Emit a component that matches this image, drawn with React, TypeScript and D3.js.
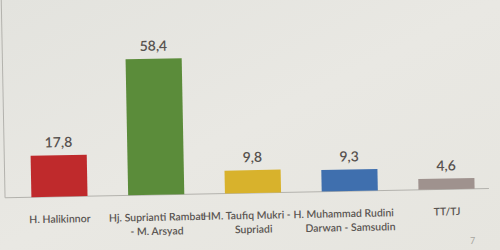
import React from "react";
import * as d3 from "d3";

const categories: string[][] = [
  ["H. Halikinnor"],
  ["Hj. Suprianti Rambat", "- M. Arsyad"],
  ["HM. Taufiq Mukri - H.", "Supriadi"],
  ["Muhammad Rudini", "Darwan - Samsudin"],
  ["TT/TJ"],
];
const values: number[] = [17.8, 58.4, 9.8, 9.3, 4.6];
const valueLabels: string[] = ["17,8", "58,4", "9,8", "9,3", "4,6"];
const colors: string[] = ["#bf2a2c", "#5b8c3a", "#d8b22c", "#3f6fae", "#9f928e"];

const W = 500;
const H = 250;
const baseY = 193;

export default function App() {
  const x = d3
    .scaleBand<number>()
    .domain(values.map((_, i) => i))
    .range([12, 494])
    .paddingInner(0.42)
    .paddingOuter(0.2);
  const y = d3.scaleLinear().domain([0, 60]).range([baseY, baseY - 60 * 2.33]);
  const font = "Lato, 'Open Sans', sans-serif";
  return (
    <svg
      width={W}
      height={H}
      style={{ position: "absolute", left: 0, top: 0, display: "block" }}
    >
      <defs>
        <linearGradient id="bg" x1="0" y1="0" x2="1" y2="1">
          <stop offset="0" stopColor="#e3e3de" />
          <stop offset="0.5" stopColor="#e9e8e3" />
          <stop offset="1" stopColor="#e6e5df" />
        </linearGradient>
      </defs>
      <rect x={0} y={0} width={W} height={H} fill="url(#bg)" />
      <g transform={`rotate(-1.1, 250, ${baseY})`}>
        <line x1={5} x2={5} y1={-10} y2={baseY} stroke="#b3b2ad" strokeWidth={1} />
        <line x1={5} x2={489} y1={baseY} y2={baseY} stroke="#b3b2ad" strokeWidth={1} />
        {values.map((v, i) => (
          <rect
            key={"b" + i}
            x={x(i)!}
            y={y(v)}
            width={x.bandwidth()}
            height={y(0) - y(v)}
            fill={colors[i]}
          />
        ))}
        {values.map((v, i) => (
          <text
            key={"v" + i}
            x={x(i)! + x.bandwidth() / 2}
            y={y(v) - 8}
            textAnchor="middle"
            fontFamily={font}
            fontSize={14}
            fontWeight={600}
            fill="#57524f"
          >
            {valueLabels[i]}
          </text>
        ))}
        {categories.map((lines, i) => (
          <text
            key={"c" + i}
            x={x(i)! + x.bandwidth() / 2}
            y={baseY + 26}
            textAnchor="middle"
            fontFamily={font}
            fontSize={10.5}
            fontWeight={600}
            fill="#5a5552"
          >
            {lines.map((l, j) => (
              <tspan key={j} x={x(i)! + x.bandwidth() / 2} dy={j === 0 ? 0 : 14}>
                {l}
              </tspan>
            ))}
          </text>
        ))}
      </g>
      <text x={470} y={244} fontFamily={font} fontSize={9} fill="#a8a6a1">
        7
      </text>
    </svg>
  );
}
